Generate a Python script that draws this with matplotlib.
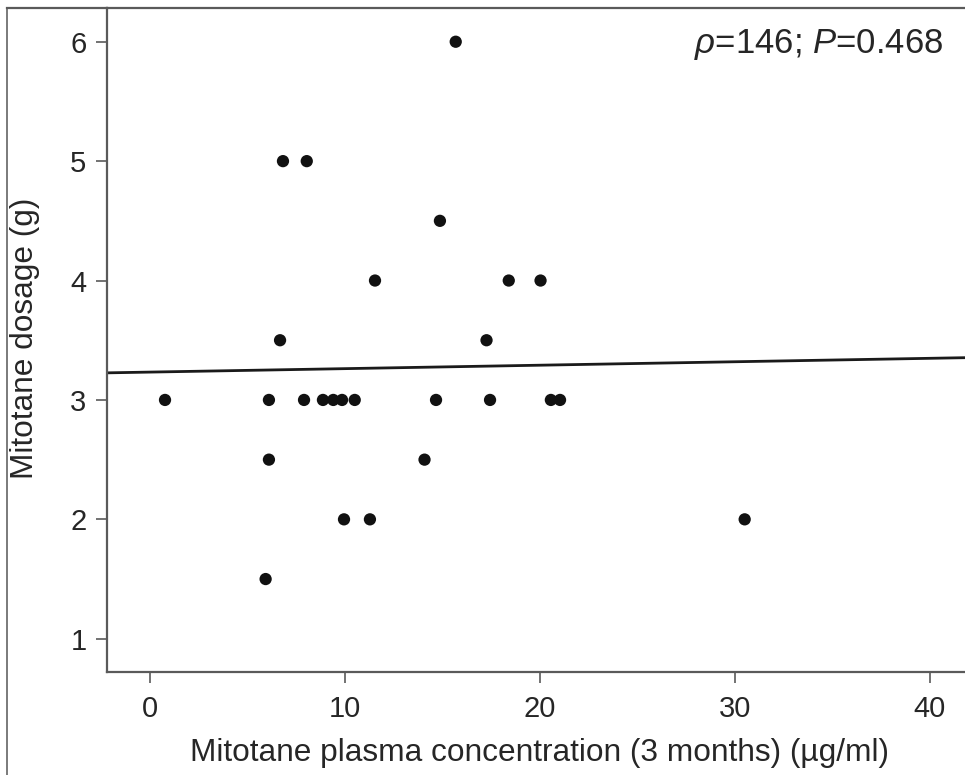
import numpy as np
import matplotlib
matplotlib.use("Agg")
import matplotlib.pyplot as plt
from matplotlib.lines import Line2D

plt.rcParams['font.family'] = ['Liberation Sans', 'DejaVu Sans']
plt.rcParams['mathtext.fontset'] = 'custom'
plt.rcParams['mathtext.rm'] = 'Liberation Sans'
plt.rcParams['mathtext.it'] = 'Liberation Sans:italic'

# Data
concentration = [0.77, 5.93, 6.1, 6.1, 6.67, 6.82, 8.04, 7.9, 8.87, 9.4, 9.85, 10.5,
                 9.95, 11.28, 11.54, 14.08, 14.67, 14.87, 15.68, 17.26, 17.44, 18.4,
                 20.03, 20.56, 21.03, 30.5]
dosage = [3, 1.5, 2.5, 3, 3.5, 5, 5, 3, 3, 3, 3, 3,
          2, 2, 4, 2.5, 3, 4.5, 6, 3.5, 3, 4,
          4, 3, 3, 2]
x_ticks = [0, 10, 20, 30, 40]
y_ticks = [1, 2, 3, 4, 5, 6]
annotation = r'$\rho$=146; $P$=0.468'

W, H = 965, 775
fig = plt.figure(figsize=(W / 100, H / 100), dpi=100)
left_px, top_px, bottom_px = 107.3, 8.3, 672.3
ax = fig.add_axes([left_px / W, 1 - bottom_px / H, 1 - left_px / W, (bottom_px - top_px) / H])

x = np.array(concentration)
y = np.array(dosage)
ax.scatter(x, y, s=78, color='#111111', edgecolors='none', zorder=3)

xmin, xmax = -2.19, 41.8
slope, intercept = np.polyfit(x, y, 1)
xs = np.array([xmin, xmax])
ax.plot(xs, intercept + slope * xs, color='#1a1a1a', lw=2.0, zorder=2, solid_capstyle='butt')

ax.set_xlim(xmin, xmax)
ax.set_ylim(0.719, 6.28)
ax.set_xticks(x_ticks)
ax.set_yticks(y_ticks)

spine_col = '#5a5a5a'
for s in ['left', 'top', 'bottom']:
    ax.spines[s].set_color(spine_col)
    ax.spines[s].set_linewidth(1.6)
ax.spines['right'].set_visible(False)

txt_col = '#262626'
ax.tick_params(axis='both', direction='out', length=8, width=1.2, color=spine_col,
               labelsize=21, labelcolor=txt_col)
ax.tick_params(axis='x', pad=8)
ax.tick_params(axis='y', pad=7)

ax.set_xlabel('Mitotane plasma concentration (3 months) (\u00b5g/ml)', fontsize=22.8, color=txt_col)
ax.set_ylabel('Mitotane dosage (g)', fontsize=22.8, color=txt_col)
ax.xaxis.set_label_coords((539 - left_px) / (W - left_px), (bottom_px - 761.5) / (bottom_px - top_px))
ax.xaxis.label.set_va('baseline')
ax.yaxis.set_label_coords((25 - left_px) / (W - left_px), (bottom_px - 338) / (bottom_px - top_px))
ax.yaxis.label.set_va('center')

ax.text((943 - left_px) / (W - left_px), (bottom_px - 45) / (bottom_px - top_px), annotation,
        transform=ax.transAxes, ha='right', va='center', fontsize=25, color=txt_col)

# outer frame (left and top edges visible)
fig.add_artist(Line2D([7 / W, 7 / W], [0, 1 - top_px / H], transform=fig.transFigure,
                      color='#7a7a7a', lw=1.4))
fig.add_artist(Line2D([7 / W, left_px / W], [1 - top_px / H, 1 - top_px / H], transform=fig.transFigure,
                      color=spine_col, lw=1.6))

fig.savefig('out.png', dpi=100)
